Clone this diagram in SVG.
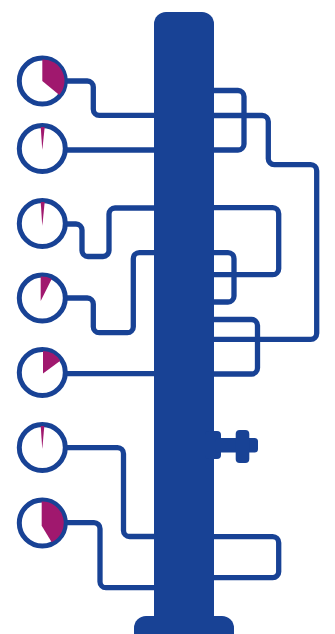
<svg xmlns="http://www.w3.org/2000/svg" width="335" height="634" viewBox="0 0 335 634">
  <style>
    .w{fill:none;stroke:#184295;stroke-width:5.300}
    .b{fill:#184295}
    .d{fill:#fff;stroke:#184295;stroke-width:5}
    .p{fill:#a0186e}
  </style>
  <g id="connectors">
    <path class="w" d="M65 81H87.300a6 6 0 0 1 6 6V109.300a6 6 0 0 0 6 6H156"/>
    <path class="w" d="M65 150H156"/>
    <path class="w" d="M65 224H76a6 6 0 0 1 6 6V250.500a6 6 0 0 0 6 6H103a6 6 0 0 0 6-6V214a6 6 0 0 1 6-6H156"/>
    <path class="w" d="M65 298H87.300a6 6 0 0 1 6 6V326.700a6 6 0 0 0 6 6H127.300a6 6 0 0 0 6-6V258.700a6 6 0 0 1 6-6H156"/>
    <path class="w" d="M65 373.700H156"/>
    <path class="w" d="M65 447.700H117.500a6 6 0 0 1 6 6V530.500a6 6 0 0 0 6 6H156"/>
    <path class="w" d="M65 522.700H94a6 6 0 0 1 6 6V581.700a6 6 0 0 0 6 6H156"/>
    <path class="w" d="M212 90.500H238a6 6 0 0 1 6 6V144a6 6 0 0 1-6 6H212"/>
    <path class="w" d="M212 115.500H262.300a6 6 0 0 1 6 6V158.700a6 6 0 0 0 6 6H310.700a6 6 0 0 1 6 6V333.300a6 6 0 0 1-6 6H212"/>
    <path class="w" d="M212 207.700H272.700a6 6 0 0 1 6 6V268.700a6 6 0 0 1-6 6H212"/>
    <path class="w" d="M212 252.700H228a6 6 0 0 1 6 6V296a6 6 0 0 1-6 6H212"/>
    <path class="w" d="M212 319.500H251.500a6 6 0 0 1 6 6V368a6 6 0 0 1-6 6H212"/>
    <path class="w" d="M212 536.700H272.700a6 6 0 0 1 6 6V571.700a6 6 0 0 1-6 6H212"/>
  </g>
  <g id="column">
    <path class="b" d="M154 634V24a12 12 0 0 1 12-12H202a12 12 0 0 1 12 12V634Z"/>
    <path class="b" d="M134 634V628a12 12 0 0 1 12-12H222a12 12 0 0 1 12 12V634Z"/>
  </g>
  <g id="valve">
    <rect class="b" x="205" y="431" width="16" height="28" rx="4"/>
    <rect class="b" x="215" y="438" width="43" height="14.500" rx="3.500"/>
    <rect class="b" x="235.700" y="430" width="13.600" height="33" rx="4"/>
  </g>
  <g id="dial1">
    <circle class="d" cx="42.300" cy="81" r="23"/>
    <path class="p" d="M42.300 81V59.500A21.500 21.500 0 0 1 59.300 95Z"/>
  </g>
  <g id="dial2">
    <circle class="d" cx="42.300" cy="148.500" r="23"/>
    <path class="p" d="M42.300 150L40.700 127.100A21.500 21.500 0 0 1 44.700 127.100Z"/>
  </g>
  <g id="dial3">
    <circle class="d" cx="42.300" cy="223.500" r="23"/>
    <path class="p" d="M42.300 226L40.700 202.100A21.500 21.500 0 0 1 44.700 202.100Z"/>
  </g>
  <g id="dial4">
    <circle class="d" cx="42.300" cy="298" r="23"/>
    <path class="p" d="M40.700 301V276.600A21.500 21.500 0 0 1 51.700 279Z"/>
  </g>
  <g id="dial5">
    <circle class="d" cx="42.300" cy="372.500" r="23"/>
    <path class="p" d="M43 373.500V351A21.500 21.500 0 0 1 60.300 360.700Z"/>
  </g>
  <g id="dial6">
    <circle class="d" cx="42.300" cy="447.500" r="23"/>
    <path class="p" d="M42.300 449L40.700 426.100A21.500 21.500 0 0 1 44.300 426.100Z"/>
  </g>
  <g id="dial7">
    <circle class="d" cx="42.300" cy="523" r="23"/>
    <path class="p" d="M41.700 525.700V501.500A21.500 21.500 0 0 1 51.700 542.300Z"/>
  </g>
</svg>
